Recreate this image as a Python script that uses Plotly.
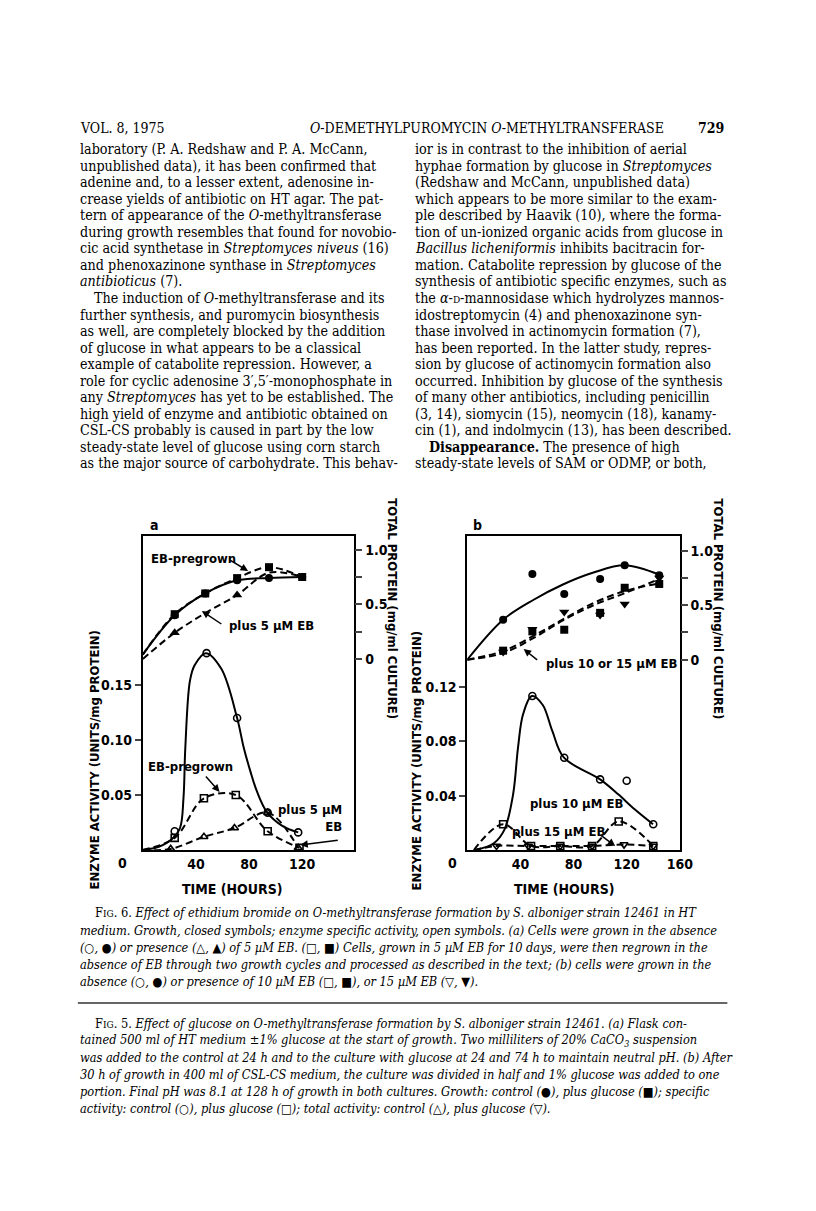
import plotly.graph_objects as go

W, H = 816, 1211

# ---------------- panel a : growth (mg/ml), closed symbols ----------------
a_grow_t = [0, 24, 47, 71, 95, 120]
a_grow_ctrl = [0.04, 0.40, 0.60, 0.72, 0.74, 0.75]      # control, filled circles
a_grow_pre = [0.04, 0.41, 0.60, 0.74, 0.84, 0.75]       # EB-pregrown, filled squares
a_grow_eb = [0.00, 0.24, 0.42, 0.585, 0.79, 0.75]       # plus 5 uM EB, filled triangles
a_grow_eb_seen = [1, 3]                                 # triangles that show in the figure

# ---------------- panel a : specific activity, open symbols ----------------
a_ctrl_t = [24, 48, 71, 94, 117]
a_ctrl = [0.017, 0.179, 0.120, 0.034, 0.016]
a_ctrl_fit_t = [0, 12, 22, 28, 30.6, 32, 35.5, 39, 47.4, 59, 71, 76, 81, 86, 93.7, 105, 117]
a_ctrl_fit = [0, 0.003, 0.010, 0.020, 0.047, 0.093, 0.154, 0.168, 0.179, 0.165,
              0.120, 0.093, 0.0715, 0.053, 0.034, 0.022, 0.016]
a_pre_t = [0, 24, 46, 70, 94, 118]
a_pre = [0, 0.011, 0.047, 0.050, 0.017, 0.002]
a_eb_t = [0, 21, 46, 69, 94, 117]
a_eb = [0, 0.001, 0.012, 0.020, 0.034, 0.002]

# ---------------- panel b : growth ----------------
b_grow_t = [27, 49, 73, 100, 118.5, 144.5]
b_grow_ctrl = [0.367, 0.786, 0.603, 0.74, 0.866, 0.774]
b_grow_eb10 = [0.083, 0.26, 0.275, 0.43, 0.66, 0.695]
b_grow_eb15 = [0.07, 0.28, 0.437, 0.41, 0.51, 0.75]
b_fit_t = [0, 27, 50, 72, 95, 118.5, 144.5]
b_fit_ctrl = [0, 0.367, 0.55, 0.69, 0.80, 0.866, 0.78]
b_fit_eb10 = [0.0, 0.08, 0.22, 0.37, 0.52, 0.63, 0.70]
b_fit_eb15 = [0.0, 0.06, 0.20, 0.36, 0.50, 0.61, 0.74]

# ---------------- panel b : specific activity ----------------
b_ctrl_t = [49, 73, 100, 120, 140]
b_ctrl = [0.1134, 0.068, 0.052, 0.051, 0.019]
b_ctrl_fit_t = [6, 20, 28, 34.5, 38.2, 42, 48.6, 56.7, 64, 72.8, 100, 113.6, 126, 139.8]
b_ctrl_fit = [0, 0.005, 0.015, 0.041, 0.0755, 0.100, 0.1134, 0.107, 0.0877, 0.068,
              0.052, 0.041, 0.030, 0.019]
b_eb10_t = [5, 27, 48, 70, 94, 114, 140]
b_eb10 = [0, 0.019, 0.003, 0.003, 0.003, 0.021, 0.003]
b_eb15_t = [5, 22, 46, 70, 94, 118, 140]
b_eb15 = [0, 0.003, 0.003, 0.003, 0.003, 0.004, 0.003]

# tick labels
a_xticks = [40, 80, 120]
b_xticks = [40, 80, 120, 160]
a_yticks = [0.05, 0.10, 0.15]
b_yticks = [0.04, 0.08, 0.12]
prot_ticks = [0, 0.25, 0.5, 0.75, 1.0]
prot_text = ["0", "", "0.5", "", "1.0"]

# page text
header_left = "VOL. 8, 1975"
header_mid = "<i>O</i>-DEMETHYLPUROMYCIN <i>O</i>-METHYLTRANSFERASE"
header_right = "729"

left_lines = [
    "laboratory (P. A. Redshaw and P. A. McCann,",
    "unpublished data), it has been confirmed that",
    "adenine and, to a lesser extent, adenosine in-",
    "crease yields of antibiotic on HT agar. The pat-",
    "tern of appearance of the <i>O</i>-methyltransferase",
    "during growth resembles that found for novobio-",
    "cic acid synthetase in <i>Streptomyces niveus</i> (16)",
    "and phenoxazinone synthase in <i>Streptomyces</i>",
    "<i>antibioticus</i> (7).",
    "The induction of <i>O</i>-methyltransferase and its",
    "further synthesis, and puromycin biosynthesis",
    "as well, are completely blocked by the addition",
    "of glucose in what appears to be a classical",
    "example of catabolite repression. However, a",
    "role for cyclic adenosine 3\u2032,5\u2032-monophosphate in",
    "any <i>Streptomyces</i> has yet to be established. The",
    "high yield of enzyme and antibiotic obtained on",
    "CSL-CS probably is caused in part by the low",
    "steady-state level of glucose using corn starch",
    "as the major source of carbohydrate. This behav-",
]
right_lines = [
    "ior is in contrast to the inhibition of aerial",
    "hyphae formation by glucose in <i>Streptomyces</i>",
    "(Redshaw and McCann, unpublished data)",
    "which appears to be more similar to the exam-",
    "ple described by Haavik (10), where the forma-",
    "tion of un-ionized organic acids from glucose in",
    "<i>Bacillus licheniformis</i> inhibits bacitracin for-",
    "mation. Catabolite repression by glucose of the",
    "synthesis of antibiotic specific enzymes, such as",
    "the <i>\u03b1</i>-<span style='font-size:10px'>D</span>-mannosidase which hydrolyzes mannos-",
    "idostreptomycin (4) and phenoxazinone syn-",
    "thase involved in actinomycin formation (7),",
    "has been reported. In the latter study, repres-",
    "sion by glucose of actinomycin formation also",
    "occurred. Inhibition by glucose of the synthesis",
    "of many other antibiotics, including penicillin",
    "(3, 14), siomycin (15), neomycin (18), kanamy-",
    "cin (1), and indolmycin (13), has been described.",
    "<b>Disappearance.</b> The presence of high",
    "steady-state levels of SAM or ODMP, or both,",
]
fig6_lines = [
    "F<span style='font-size:10px'>IG</span>. 6. <i>Effect of ethidium bromide on O-methyltransferase formation by S. alboniger strain 12461 in HT</i>",
    "<i>medium. Growth, closed symbols; enzyme specific activity, open symbols. (a) Cells were grown in the absence</i>",
    "<i>(\u25cb, \u25cf) or presence (\u25b3, \u25b2) of 5 \u00b5M EB. (\u25a1, \u25a0) Cells, grown in 5 \u00b5M EB for 10 days, were then regrown in the</i>",
    "<i>absence of EB through two growth cycles and processed as described in the text; (b) cells were grown in the</i>",
    "<i>absence (\u25cb, \u25cf) or presence of 10 \u00b5M EB (\u25a1, \u25a0), or 15 \u00b5M EB (\u25bd, \u25bc).</i>",
]
fig5_lines = [
    "F<span style='font-size:10px'>IG</span>. 5. <i>Effect of glucose on O-methyltransferase formation by S. alboniger strain 12461. (a) Flask con-</i>",
    "<i>tained 500 ml of HT medium \u00b11% glucose at the start of growth. Two milliliters of 20% CaCO<sub>3</sub> suspension</i>",
    "<i>was added to the control at 24 h and to the culture with glucose at 24 and 74 h to maintain neutral pH. (b) After</i>",
    "<i>30 h of growth in 400 ml of CSL-CS medium, the culture was divided in half and 1% glucose was added to one</i>",
    "<i>portion. Final pH was 8.1 at 128 h of growth in both cultures. Growth: control (\u25cf), plus glucose (\u25a0); specific</i>",
    "<i>activity: control (\u25cb), plus glucose (\u25a1); total activity: control (\u25b3), plus glucose (\u25bd).</i>",
]

SANS = "Liberation Sans Narrow, DejaVu Sans Condensed, Arial Narrow, sans-serif"
SERIF = "DejaVu Serif Condensed, DejaVu Serif, Liberation Serif, serif"


def px(x):
    return x / W


def py(y):
    return 1 - y / H


fig = go.Figure()


def curve(x, y, xa, ya, dash="solid", shape="spline"):
    fig.add_trace(go.Scatter(x=x, y=y, xaxis=xa, yaxis=ya, mode="lines",
                             line=dict(color="black", width=2, dash=dash, shape=shape,
                                       smoothing=1.0),
                             hoverinfo="skip", cliponaxis=True))


def marks(x, y, xa, ya, symbol, size=8):
    open_sym = symbol.endswith("open")
    fig.add_trace(go.Scatter(x=x, y=y, xaxis=xa, yaxis=ya, mode="markers",
                             marker=dict(symbol=symbol, size=size, color="black",
                                         line=dict(color="black", width=1.6 if open_sym else 0)),
                             hoverinfo="skip", cliponaxis=False))


DASH = "7px,4px"

# panel a growth
curve(a_grow_t, a_grow_pre, "x", "y2", DASH)
curve(a_grow_t, a_grow_eb, "x", "y2", DASH)
curve(a_grow_t, a_grow_ctrl, "x", "y2")
marks(a_grow_t[1:], a_grow_ctrl[1:], "x", "y2", "circle")
marks(a_grow_t[1:], a_grow_pre[1:], "x", "y2", "square")
marks([a_grow_t[i] for i in a_grow_eb_seen], [a_grow_eb[i] for i in a_grow_eb_seen],
      "x", "y2", "triangle-up", 9)

# panel a enzyme
curve(a_ctrl_fit_t, a_ctrl_fit, "x", "y")
curve(a_pre_t, a_pre, "x", "y", DASH)
curve(a_eb_t, a_eb, "x", "y", DASH)
marks(a_ctrl_t, a_ctrl, "x", "y", "circle-open", 7)
marks(a_pre_t[1:], a_pre[1:], "x", "y", "square-open", 7)
marks(a_eb_t[1:], a_eb[1:], "x", "y", "triangle-up-open", 7)

# panel b growth
curve(b_fit_t, b_fit_eb10, "x2", "y4", DASH)
curve(b_fit_t, b_fit_eb15, "x2", "y4", DASH)
curve(b_fit_t, b_fit_ctrl, "x2", "y4")
marks(b_grow_t, b_grow_ctrl, "x2", "y4", "circle")
marks(b_grow_t, b_grow_eb10, "x2", "y4", "square")
marks(b_grow_t, b_grow_eb15, "x2", "y4", "triangle-down", 9)

# panel b enzyme
curve(b_ctrl_fit_t, b_ctrl_fit, "x2", "y3")
curve(b_eb10_t, b_eb10, "x2", "y3", DASH)
curve(b_eb15_t, b_eb15, "x2", "y3", DASH)
marks(b_ctrl_t, b_ctrl, "x2", "y3", "circle-open", 7)
marks(b_eb10_t[1:], b_eb10[1:], "x2", "y3", "square-open", 7)
marks(b_eb15_t[1:], b_eb15[1:], "x2", "y3", "triangle-down-open", 7)

tickfont = dict(family=SANS, size=14, color="black", weight="bold")
box = dict(showline=True, mirror=True, linecolor="black", linewidth=2,
           showgrid=False, zeroline=False)
ydom = [py(842), py(528)]

fig.update_layout(
    width=W, height=H, margin=dict(l=0, r=0, t=0, b=0),
    paper_bgcolor="white", plot_bgcolor="white", showlegend=False,
    xaxis=dict(domain=[px(137), px(352)], range=[0, 159.3], anchor="y",
               tickvals=a_xticks, ticks="", tickfont=tickfont, **box),
    yaxis=dict(domain=ydom, range=[0, 0.2855], anchor="x",
               tickvals=a_yticks, ticktext=["0.05", "0.10", "0.15"],
               ticks="outside", ticklen=6, tickwidth=2, tickfont=tickfont, **box),
    yaxis2=dict(overlaying="y", side="right", anchor="x", range=[-1.7475, 1.1253],
                tickvals=prot_ticks, ticktext=prot_text, ticks="outside", ticklen=7,
                tickwidth=2, showline=False, showgrid=False, zeroline=False,
                tickfont=tickfont),
    xaxis2=dict(domain=[px(466.7), px(682.7)], range=[0, 160], anchor="y3",
                tickvals=b_xticks, ticks="", tickfont=tickfont, **box),
    yaxis3=dict(domain=ydom, range=[0, 0.2313], anchor="x2",
                tickvals=b_yticks, ticktext=["0.04", "0.08", "0.12"],
                ticks="outside", ticklen=6, tickwidth=2, tickfont=tickfont, **box),
    yaxis4=dict(overlaying="y3", side="right", anchor="x2", range=[-1.746, 1.135],
                tickvals=prot_ticks, ticktext=prot_text, ticks="outside", ticklen=7,
                tickwidth=2, showline=False, showgrid=False, zeroline=False,
                tickfont=tickfont),
)


def txt(x, y, s, size=14, family=SERIF, anchor="left", angle=0, weight="normal", align="left"):
    fig.add_annotation(x=px(x), y=py(y), xref="paper", yref="paper", text=s,
                       showarrow=False, xanchor=anchor, yanchor="middle",
                       textangle=angle, align=align,
                       font=dict(family=family, size=size, color="black", weight=weight))


def arrow(x0, y0, x1, y1):
    fig.add_annotation(x=px(x1), y=py(y1), xref="paper", yref="paper", text="",
                       showarrow=True, ax=x0 - x1, ay=y0 - y1, axref="pixel", ayref="pixel",
                       arrowhead=2, arrowsize=1, arrowwidth=1.5, arrowcolor="black")


# header
txt(71, 120, header_left, 14)
txt(487, 120, header_mid, 14, anchor="center")
txt(730, 120, header_right, 14, anchor="right", weight="bold")

# body columns
for i, s in enumerate(left_lines):
    txt(71 + (14 if i == 9 else 0), 141 + 16.55 * i, s, 14.2)
for i, s in enumerate(right_lines):
    txt(412 + (14 if i == 18 else 0), 141 + 16.55 * i, s, 14.2)

# figure labels
LAB = 13
txt(142, 517, "a", 14, SANS, weight="bold")
txt(470, 517, "b", 14, SANS, weight="bold")
txt(143, 550, "EB-pregrown", LAB, SANS, weight="bold")
txt(223, 617, "plus 5 \u00b5M EB", LAB, SANS, weight="bold")
txt(140, 758, "EB-pregrown", LAB, SANS, weight="bold")
txt(341, 810, "plus 5 \u00b5M<br>EB", LAB, SANS, anchor="right", weight="bold", align="right")
txt(545, 655, "plus 10 or 15 \u00b5M EB", LAB, SANS, weight="bold")
txt(528, 795, "plus 10 \u00b5M EB", LAB, SANS, weight="bold")
txt(510, 823, "plus 15 \u00b5M EB", LAB, SANS, weight="bold")
arrow(224, 551, 244, 563)
arrow(218, 617, 197, 603)
arrow(200, 767, 215, 784)
arrow(336, 832, 297, 837)
arrow(539, 653, 524, 641)
arrow(601, 826, 617, 838)

# axis titles
for cx in (116, 452):
    txt(cx, 855, "0", 14, SANS, anchor="center", weight="bold")
txt(228, 881, "TIME (HOURS)", 14, SANS, anchor="center", weight="bold")
txt(566, 881, "TIME (HOURS)", 14, SANS, anchor="center", weight="bold")
txt(87, 752, "ENZYME ACTIVITY (UNITS/mg PROTEIN)", 13, SANS, anchor="center", angle=-90, weight="bold")
txt(415, 752, "ENZYME ACTIVITY (UNITS/mg PROTEIN)", 13, SANS, anchor="center", angle=-90, weight="bold")
txt(390, 601, "TOTAL PROTEIN (mg/ml CULTURE)", 13, SANS, anchor="center", angle=90, weight="bold")
txt(722, 601, "TOTAL PROTEIN (mg/ml CULTURE)", 13, SANS, anchor="center", angle=90, weight="bold")

# captions
for i, s in enumerate(fig6_lines):
    txt(71 + (15 if i == 0 else 0), 905 + 17 * i, s, 12.7)
for i, s in enumerate(fig5_lines):
    txt(71 + (15 if i == 0 else 0), 1015 + 17 * i, s, 12.7)
fig.add_shape(type="line", xref="paper", yref="paper", x0=px(71), x1=px(731),
              y0=py(995), y1=py(995), line=dict(color="#333333", width=1.3))

fig.write_html("out.html")
